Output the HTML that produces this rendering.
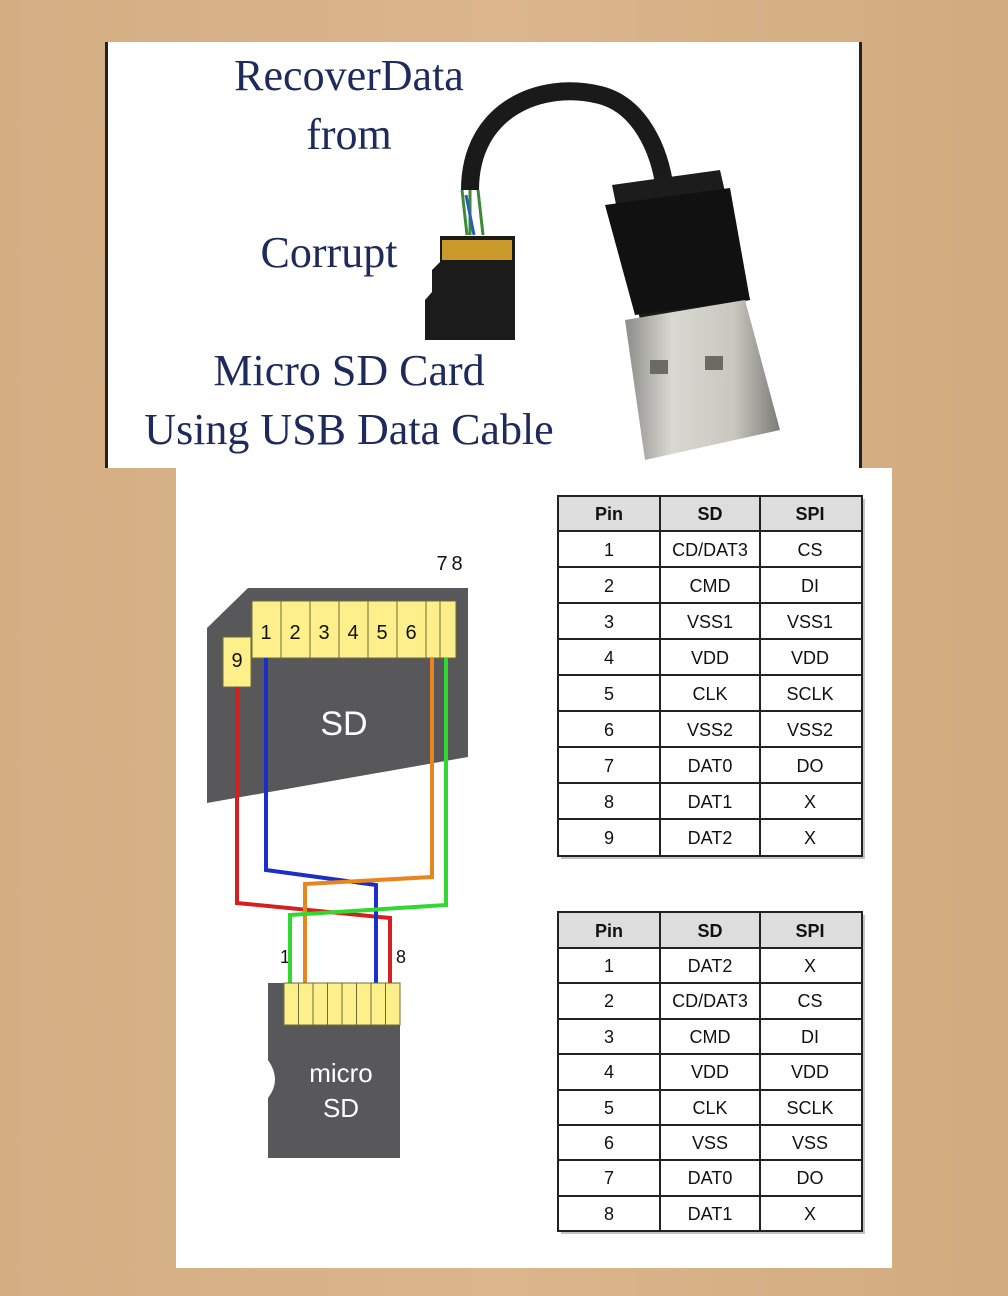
<!DOCTYPE html>
<html><head><meta charset="utf-8"><style>
body{margin:0;width:1008px;height:1296px;overflow:hidden;background:#d6b187;}
svg{display:block}
</style></head><body>
<svg width="1008" height="1296" xmlns="http://www.w3.org/2000/svg">
<defs>
<linearGradient id="wood" x1="0" y1="0" x2="1" y2="0">
<stop offset="0" stop-color="#d4ad83"/><stop offset="0.5" stop-color="#dbb68c"/><stop offset="1" stop-color="#d2aa7f"/>
</linearGradient>
<linearGradient id="metal" x1="0" y1="0" x2="1" y2="0">
<stop offset="0" stop-color="#8c8c88"/><stop offset="0.3" stop-color="#d9d8d2"/><stop offset="0.7" stop-color="#c9c7c0"/><stop offset="1" stop-color="#7d7b76"/>
</linearGradient>
</defs>
<rect width="1008" height="1296" fill="url(#wood)"/>
<rect x="105" y="42" width="757" height="426" fill="#fff"/>
<rect x="105" y="42" width="3" height="426" fill="#222"/>
<rect x="859" y="42" width="3" height="426" fill="#222"/>
<g font-family="Liberation Serif, serif" fill="#1f2a5c" text-anchor="middle" font-size="44">
<text x="349" y="90">RecoverData</text>
<text x="349" y="149">from</text>
<text x="329" y="267">Corrupt</text>
<text x="349" y="385">Micro SD Card</text>
<text x="349" y="444">Using USB Data Cable</text>
</g>
<path d="M470 190 C470 110 540 80 600 95 C640 105 660 150 665 190" stroke="#1a1a1a" stroke-width="18" fill="none"/>
<path d="M462 190 l5 45 M470 190 l0 45 M478 190 l5 45" stroke="#3a8a3a" stroke-width="3"/>
<path d="M466 195 l8 40" stroke="#2a5fb0" stroke-width="3"/>
<path d="M440 236 L515 236 L515 340 L425 340 L425 300 L432 292 L432 270 L440 262 Z" fill="#1b1b1b"/>
<rect x="442" y="240" width="70" height="20" fill="#c99a2a"/>
<path d="M612 185 L720 170 L750 300 L640 320 Z" fill="#1c1c1c"/>
<path d="M605 205 L730 188 L750 300 L635 315 Z" fill="#111"/>
<path d="M625 320 L745 300 L780 430 L645 460 Z" fill="url(#metal)"/>
<rect x="650" y="360" width="18" height="14" fill="#6d6a63"/>
<rect x="705" y="356" width="18" height="14" fill="#6d6a63"/>
<rect x="176" y="468" width="716" height="800" fill="#fff"/>
<polygon points="248,588 468,588 468,757 207,803 207,628" fill="#58585a"/>
<g fill="#fdf08a" stroke="#6b6b3a" stroke-width="1">
<rect x="252" y="601" width="29" height="57"/><rect x="281" y="601" width="29" height="57"/>
<rect x="310" y="601" width="29" height="57"/><rect x="339" y="601" width="29" height="57"/>
<rect x="368" y="601" width="29" height="57"/><rect x="397" y="601" width="29" height="57"/>
<rect x="426" y="601" width="14" height="57"/><rect x="440" y="601" width="16" height="57"/>
<rect x="223" y="637" width="28" height="50"/>
</g>
<g font-family="Liberation Sans, sans-serif" font-size="20" fill="#111" text-anchor="middle">
<text x="266" y="639">1</text><text x="295" y="639">2</text><text x="324" y="639">3</text>
<text x="353" y="639">4</text><text x="382" y="639">5</text><text x="411" y="639">6</text>
<text x="237" y="667">9</text>
<text x="442" y="570">7</text><text x="457" y="570">8</text>
<text x="285" y="963" font-size="18">1</text><text x="401" y="963" font-size="18">8</text>
</g>
<text x="344" y="735" font-family="Liberation Sans, sans-serif" font-size="34" fill="#fff" text-anchor="middle">SD</text>
<g fill="none" stroke-width="4">
<polyline points="237,687 237,903 390,918 390,983" stroke="#d42020"/>
<polyline points="266,658 266,870 376,885 376,983" stroke="#1a2fc8"/>
<polyline points="432,658 432,877 305,884 305,983" stroke="#e8851e"/>
<polyline points="446,658 446,905 290,915 290,983" stroke="#30d830"/>
</g>
<path d="M268 983 L400 983 L400 1158 L268 1158 L268 1098 Q282 1080 268 1060 Z" fill="#58585a"/>
<g fill="#fdf08a" stroke="#6b6b3a" stroke-width="1">
<rect x="284" y="983" width="14.5" height="42"/><rect x="298.5" y="983" width="14.5" height="42"/>
<rect x="313" y="983" width="14.5" height="42"/><rect x="327.5" y="983" width="14.5" height="42"/>
<rect x="342" y="983" width="14.5" height="42"/><rect x="356.5" y="983" width="14.5" height="42"/>
<rect x="371" y="983" width="14.5" height="42"/><rect x="385.5" y="983" width="14.5" height="42"/>
</g>
<g font-family="Liberation Sans, sans-serif" font-size="26" fill="#fff" text-anchor="middle">
<text x="341" y="1082">micro</text><text x="341" y="1117">SD</text>
</g>
<g font-family="Liberation Sans, sans-serif" font-size="18" fill="#111" text-anchor="middle">
<rect x="561" y="499" width="304" height="360" fill="#888" opacity="0.5"/>
<rect x="558" y="496" width="304" height="360" fill="#fff" stroke="#222" stroke-width="2"/>
<rect x="558" y="496" width="304" height="35" fill="#ddd" stroke="#222" stroke-width="2"/>
<line x1="660" y1="496" x2="660" y2="856" stroke="#222" stroke-width="2"/>
<line x1="760" y1="496" x2="760" y2="856" stroke="#222" stroke-width="2"/>
<g stroke="#222" stroke-width="2">
<line x1="558" y1="567" x2="862" y2="567"/><line x1="558" y1="603" x2="862" y2="603"/>
<line x1="558" y1="639" x2="862" y2="639"/><line x1="558" y1="675" x2="862" y2="675"/>
<line x1="558" y1="711" x2="862" y2="711"/><line x1="558" y1="747" x2="862" y2="747"/>
<line x1="558" y1="783" x2="862" y2="783"/><line x1="558" y1="819" x2="862" y2="819"/>
</g>
<g font-weight="bold"><text x="609" y="520">Pin</text><text x="710" y="520">SD</text><text x="810" y="520">SPI</text></g>
<text x="609" y="556">1</text><text x="710" y="556">CD/DAT3</text><text x="810" y="556">CS</text>
<text x="609" y="592">2</text><text x="710" y="592">CMD</text><text x="810" y="592">DI</text>
<text x="609" y="628">3</text><text x="710" y="628">VSS1</text><text x="810" y="628">VSS1</text>
<text x="609" y="664">4</text><text x="710" y="664">VDD</text><text x="810" y="664">VDD</text>
<text x="609" y="700">5</text><text x="710" y="700">CLK</text><text x="810" y="700">SCLK</text>
<text x="609" y="736">6</text><text x="710" y="736">VSS2</text><text x="810" y="736">VSS2</text>
<text x="609" y="772">7</text><text x="710" y="772">DAT0</text><text x="810" y="772">DO</text>
<text x="609" y="808">8</text><text x="710" y="808">DAT1</text><text x="810" y="808">X</text>
<text x="609" y="844">9</text><text x="710" y="844">DAT2</text><text x="810" y="844">X</text>
</g>
<g font-family="Liberation Sans, sans-serif" font-size="18" fill="#111" text-anchor="middle">
<rect x="561" y="915" width="304" height="319" fill="#888" opacity="0.5"/>
<rect x="558" y="912" width="304" height="319" fill="#fff" stroke="#222" stroke-width="2"/>
<rect x="558" y="912" width="304" height="36" fill="#ddd" stroke="#222" stroke-width="2"/>
<line x1="660" y1="912" x2="660" y2="1231" stroke="#222" stroke-width="2"/>
<line x1="760" y1="912" x2="760" y2="1231" stroke="#222" stroke-width="2"/>
<g stroke="#222" stroke-width="2">
<line x1="558" y1="983" x2="862" y2="983"/><line x1="558" y1="1019" x2="862" y2="1019"/>
<line x1="558" y1="1054" x2="862" y2="1054"/><line x1="558" y1="1090" x2="862" y2="1090"/>
<line x1="558" y1="1125" x2="862" y2="1125"/><line x1="558" y1="1160" x2="862" y2="1160"/>
<line x1="558" y1="1196" x2="862" y2="1196"/>
</g>
<g font-weight="bold"><text x="609" y="937">Pin</text><text x="710" y="937">SD</text><text x="810" y="937">SPI</text></g>
<text x="609" y="972">1</text><text x="710" y="972">DAT2</text><text x="810" y="972">X</text>
<text x="609" y="1007">2</text><text x="710" y="1007">CD/DAT3</text><text x="810" y="1007">CS</text>
<text x="609" y="1043">3</text><text x="710" y="1043">CMD</text><text x="810" y="1043">DI</text>
<text x="609" y="1078">4</text><text x="710" y="1078">VDD</text><text x="810" y="1078">VDD</text>
<text x="609" y="1114">5</text><text x="710" y="1114">CLK</text><text x="810" y="1114">SCLK</text>
<text x="609" y="1149">6</text><text x="710" y="1149">VSS</text><text x="810" y="1149">VSS</text>
<text x="609" y="1184">7</text><text x="710" y="1184">DAT0</text><text x="810" y="1184">DO</text>
<text x="609" y="1220">8</text><text x="710" y="1220">DAT1</text><text x="810" y="1220">X</text>
</g>
</svg>
</body></html>
